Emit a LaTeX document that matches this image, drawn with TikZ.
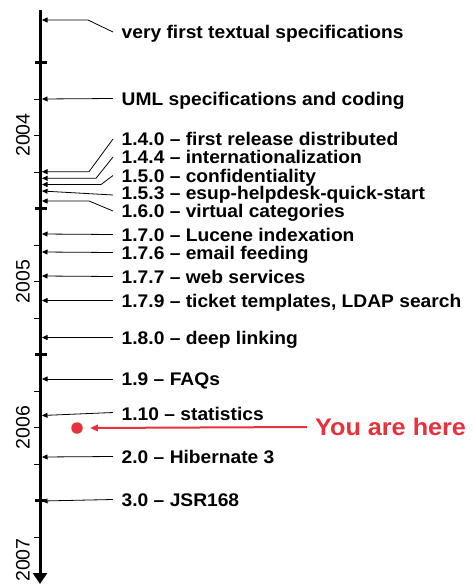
\documentclass[tikz,border=0pt]{standalone}
\usepackage{fontspec}
\setmainfont{Liberation Sans}
\newfontfamily\labfont[FakeStretch=1.05]{Liberation Sans}
\usetikzlibrary{arrows.meta}
\definecolor{hered}{RGB}{230,50,60}
\begin{document}
\begin{tikzpicture}[x=1pt,y=-1pt,
  axisline/.style={line width=3pt,-{Triangle[length=11pt,width=14pt]}},
  bigtick/.style={line width=3pt},
  smalltick/.style={line width=0.9pt},
  evt/.style={line width=0.8pt,-{Triangle[length=5.5pt,width=5pt]}},
  lab/.style={anchor=west,inner sep=0pt,font=\labfont\fontsize{18.3}{18.3}\selectfont\bfseries,text height=13.1pt,text depth=0pt},
  yearlab/.style={rotate=90,inner sep=0pt,font=\fontsize{19.5}{19.5}\selectfont,text height=14pt,text depth=0pt},
  herelab/.style={anchor=west,inner sep=0pt,text=hered,font=\labfont\fontsize{24}{24}\selectfont\bfseries,text height=17.2pt,text depth=0pt},
  herearrow/.style={draw=hered,line width=2pt,-{Triangle[length=8pt,width=6.5pt]}},
  reddot/.style={circle,fill=hered,inner sep=0pt,minimum size=11.5pt}
]
\useasboundingbox (0,0) rectangle (473,584);

% axis
\coordinate (top) at (40,10);
\coordinate (bot) at (40,584);
\draw[axisline] (top) -- (bot);

% half-year ticks
\foreach \y in {62,208,354,500} \draw[bigtick] (35,\y) -- (47,\y);
% quarter ticks
\foreach \y in {99,135,172,245,281.5,318,391.5,427.7,464,537} \draw[smalltick] (34,\y) -- (40,\y);

% year labels
\node[yearlab] (y2004) at (22.5,135) {2004};
\node[yearlab] (y2005) at (22.5,281.5) {2005};
\node[yearlab] (y2006) at (22.5,427.7) {2006};
\node[yearlab] (y2007) at (22.5,560) {2007};

% events
\coordinate (a1) at (42,20);
\node[lab] (t1) at (121.5,32) {very first textual specifications};
\draw[evt] ([xshift=-8.5pt]t1.west) -- (88,20) -- (a1);

\coordinate (a2) at (42,99);
\node[lab] (t2) at (121.5,98.5) {UML specifications and coding};
\draw[evt] ([xshift=-8.5pt]t2.west) -- (a2);

\coordinate (a3) at (42,171.7);
\node[lab] (t3) at (121.5,139) {1.4.0 – first release distributed};
\draw[evt] ([xshift=-8.5pt]t3.west) -- (89,171.7) -- (a3);

\coordinate (a4) at (42,178.3);
\node[lab] (t4) at (121.5,157) {1.4.4 – internationalization};
\draw[evt] ([xshift=-8.5pt]t4.west) -- (96,178.3) -- (a4);

\coordinate (a5) at (42,184.5);
\node[lab] (t5) at (121.5,175.5) {1.5.0 – confidentiality};
\draw[evt] ([xshift=-8.5pt]t5.west) -- (101,184.5) -- (a5);

\coordinate (a6) at (42,191);
\node[lab] (t6) at (121.5,193) {1.5.3 – esup-helpdesk-quick-start};
\draw[evt] ([xshift=-8.5pt,yshift=-2pt]t6.west) -- (a6);

\coordinate (a7) at (42,201);
\node[lab] (t7) at (121.5,211) {1.6.0 – virtual categories};
\draw[evt] ([xshift=-8.5pt]t7.west) -- (89,201) -- (a7);

\coordinate (a8) at (42,234);
\node[lab] (t8) at (121.5,234.5) {1.7.0 – Lucene indexation};
\draw[evt] ([xshift=-8.5pt]t8.west) -- (a8);

\coordinate (a9) at (42,252);
\node[lab] (t9) at (121.5,252.5) {1.7.6 – email feeding};
\draw[evt] ([xshift=-8.5pt]t9.west) -- (a9);

\coordinate (a10) at (42,276);
\node[lab] (t10) at (121.5,276.5) {1.7.7 – web services};
\draw[evt] ([xshift=-8.5pt]t10.west) -- (a10);

\coordinate (a11) at (42,300.5);
\node[lab] (t11) at (121.5,300.5) {1.7.9 – ticket templates, LDAP search};
\draw[evt] ([xshift=-8.5pt]t11.west) -- (a11);

\coordinate (a12) at (42,337.5);
\node[lab] (t12) at (121.5,337.5) {1.8.0 – deep linking};
\draw[evt] ([xshift=-8.5pt]t12.west) -- (a12);

\coordinate (a13) at (42,379);
\node[lab] (t13) at (121.5,379) {1.9 – FAQs};
\draw[evt] ([xshift=-8.5pt]t13.west) -- (a13);

\coordinate (a14) at (42,415.5);
\node[lab] (t14) at (121.5,414) {1.10 – statistics};
\draw[evt] ([xshift=-8.5pt,yshift=1.5pt]t14.west) -- (a14);

\coordinate (a15) at (42,457);
\node[lab] (t15) at (121.5,456.5) {2.0 – Hibernate 3};
\draw[evt] ([xshift=-8.5pt]t15.west) -- (a15);

\coordinate (a16) at (42,501);
\node[lab] (t16) at (121.5,499.5) {3.0 – JSR168};
\draw[evt] ([xshift=-8.5pt]t16.west) -- (a16);

% you are here
\node[reddot] (here) at (77,428) {};
\node[herelab] (youlab) at (315,427) {You are here};
\draw[herearrow] ([xshift=-8pt]youlab.west) -- ([xshift=7pt]here.east);
\end{tikzpicture}
\end{document}
